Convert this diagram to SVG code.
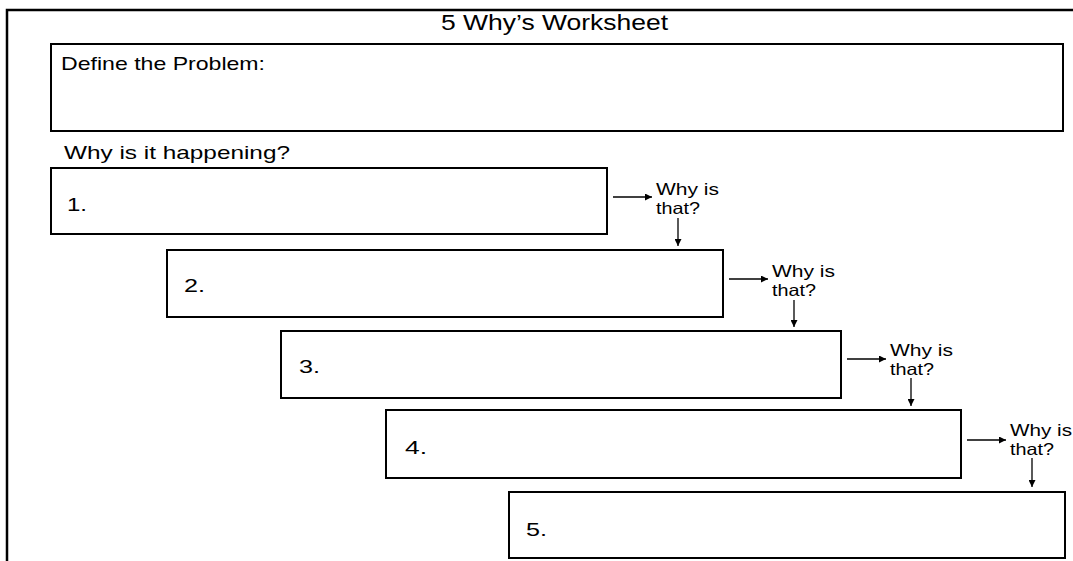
<svg xmlns="http://www.w3.org/2000/svg" width="1073" height="561" viewBox="0 0 1073 561">
  <style>
    .box { fill: #fff; stroke: #000; stroke-width: 2; }
    .frame { fill: none; stroke: #000; stroke-width: 2.5; }
    .lbl { font-family: "Liberation Sans", Arial, sans-serif; font-size: 19px; fill: #000; }
    .title { font-family: "Liberation Sans", Arial, sans-serif; font-size: 22px; fill: #000; }
    .ask { font-family: "Liberation Sans", Arial, sans-serif; font-size: 16.5px; fill: #000; }
    .conn { stroke: #000; stroke-width: 1.3; fill: none; marker-end: url(#arrow); }
  </style>
  <defs>
    <marker id="arrow" viewBox="0 0 10 10" refX="10" refY="5" markerWidth="7" markerHeight="7" markerUnits="userSpaceOnUse" orient="auto">
      <path d="M0,0 L10,5 L0,10 z" fill="#000"/>
    </marker>
  </defs>
  <rect width="1073" height="561" fill="#fff"/>

  <!-- outer page frame -->
  <path class="frame" d="M7,561 L7,10 L1073,10"/>

  <text class="title" x="441" y="30" textLength="227" lengthAdjust="spacingAndGlyphs">5 Why’s Worksheet</text>

  <g id="problem">
    <rect class="box" x="51" y="44" width="1012" height="87"/>
    <text class="lbl" x="61" y="70" textLength="204" lengthAdjust="spacingAndGlyphs">Define the Problem:</text>
  </g>

  <text class="lbl" x="64" y="159" textLength="226" lengthAdjust="spacingAndGlyphs">Why is it happening?</text>

  <g id="why1">
    <rect class="box" x="51" y="168" width="556" height="66"/>
    <text class="lbl" x="67" y="211" textLength="20" lengthAdjust="spacingAndGlyphs">1.</text>
  </g>
  <g id="why2">
    <rect class="box" x="167" y="250" width="556" height="67"/>
    <text class="lbl" x="184" y="292" textLength="21" lengthAdjust="spacingAndGlyphs">2.</text>
  </g>
  <g id="why3">
    <rect class="box" x="281" y="331" width="560" height="67"/>
    <text class="lbl" x="299" y="373" textLength="21" lengthAdjust="spacingAndGlyphs">3.</text>
  </g>
  <g id="why4">
    <rect class="box" x="386" y="410" width="575" height="68"/>
    <text class="lbl" x="405" y="454" textLength="22" lengthAdjust="spacingAndGlyphs">4.</text>
  </g>
  <g id="why5">
    <rect class="box" x="509" y="492" width="556" height="66"/>
    <text class="lbl" x="526" y="536" textLength="21" lengthAdjust="spacingAndGlyphs">5.</text>
  </g>

  <!-- "Why is that?" prompts between steps -->
  <g id="prompts">
    <text class="ask" x="656" y="195" textLength="63" lengthAdjust="spacingAndGlyphs">Why is</text>
    <text class="ask" x="656" y="214" textLength="44" lengthAdjust="spacingAndGlyphs">that?</text>
    <text class="ask" x="772" y="277" textLength="63" lengthAdjust="spacingAndGlyphs">Why is</text>
    <text class="ask" x="772" y="296" textLength="44" lengthAdjust="spacingAndGlyphs">that?</text>
    <text class="ask" x="890" y="356" textLength="63" lengthAdjust="spacingAndGlyphs">Why is</text>
    <text class="ask" x="890" y="375" textLength="44" lengthAdjust="spacingAndGlyphs">that?</text>
    <text class="ask" x="1010" y="436" textLength="62" lengthAdjust="spacingAndGlyphs">Why is</text>
    <text class="ask" x="1010" y="455" textLength="44" lengthAdjust="spacingAndGlyphs">that?</text>
  </g>

  <g id="connectors">
    <line class="conn" x1="613" y1="197" x2="652" y2="197"/>
    <line class="conn" x1="678" y1="218" x2="678" y2="246"/>
    <line class="conn" x1="729" y1="279" x2="768" y2="279"/>
    <line class="conn" x1="794" y1="300" x2="794" y2="327"/>
    <line class="conn" x1="847" y1="359" x2="886" y2="359"/>
    <line class="conn" x1="911" y1="378" x2="911" y2="406"/>
    <line class="conn" x1="967" y1="440" x2="1006" y2="440"/>
    <line class="conn" x1="1032" y1="458" x2="1032" y2="487"/>
  </g>
</svg>
